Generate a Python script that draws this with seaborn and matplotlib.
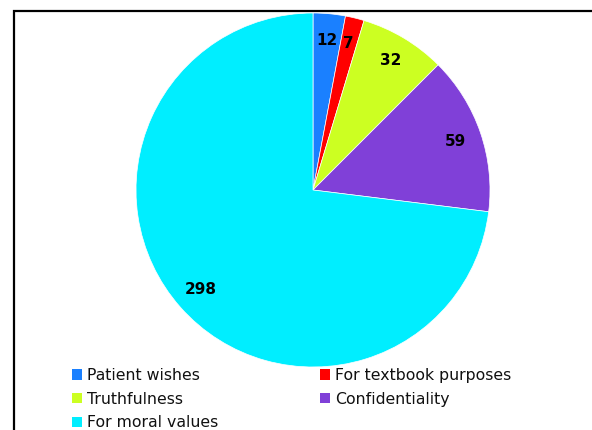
import matplotlib
matplotlib.use("Agg")
import matplotlib.pyplot as plt
import seaborn as sns
from matplotlib.patches import Rectangle, Patch

sns.set_theme(style="white")
plt.rcParams['font.family'] = ['DejaVu Sans']

categories = ["Patient wishes", "For textbook purposes", "Truthfulness", "Confidentiality", "For moral values"]
values = [12, 7, 32, 59, 298]
colors = ["#1A80FF", "#FF0000", "#CCFF22", "#8040D8", "#00EEFF"]

W, H = 592, 430
fig = plt.figure(figsize=(W / 100, H / 100), dpi=100)
fig.patch.set_facecolor("white")

# frame
fig.patches.append(Rectangle((13.5 / W, -0.1), 1.2, (H - 11.5) / H + 0.1, transform=fig.transFigure,
                             fill=False, edgecolor="black", linewidth=1.6))

cx, cy, r = 313, 190, 177
ax = fig.add_axes([(cx - r) / W, (H - cy - r) / H, 2 * r / W, 2 * r / H])
wedges, texts = ax.pie(values, colors=colors, startangle=90, counterclock=False,
                       labels=[str(v) for v in values], labeldistance=0.85,
                       wedgeprops=dict(linewidth=0.5, edgecolor="white"),
                       textprops=dict(fontsize=11, fontweight="bold", color="black"))
for t in texts:
    t.set_ha("center")
    t.set_va("center")
ax.set_xlim(-1, 1)
ax.set_ylim(-1, 1)
ax.axis("off")

order = [0, 2, 4, 1, 3]
handles = [Patch(facecolor=colors[i], edgecolor="none") for i in order]
labels = [categories[i] for i in order]
leg = fig.legend(handles, labels, ncol=2, loc="upper left",
                 bbox_to_anchor=(72 / W, (H - 368) / H), frameon=False,
                 fontsize=11.3, handlelength=0.64, handleheight=0.64, handletextpad=0.32,
                 columnspacing=6.5, labelspacing=0.55, borderpad=0, borderaxespad=0)
for t in leg.get_texts():
    t.set_color("#111111")

fig.savefig("out.png", dpi=100)
